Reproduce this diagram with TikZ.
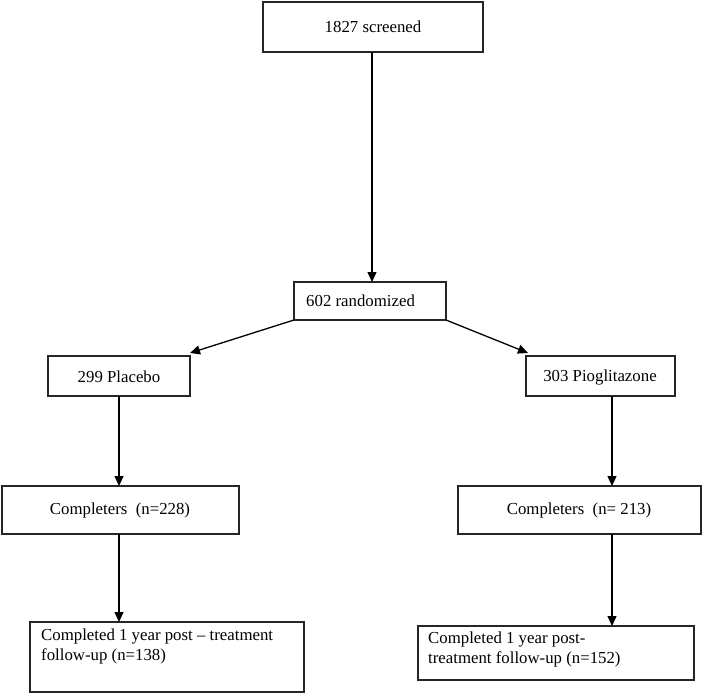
\documentclass[tikz,border=0pt]{standalone}
\usepackage{fontspec}
\setmainfont{Liberation Serif}
\usetikzlibrary{arrows.meta}
\begin{document}
\begin{tikzpicture}[x=1pt,y=-1pt,
  box/.style={draw=black!85, line width=1.1pt, inner sep=0pt},
  conn/.style={line width=1.3pt, -{Triangle[length=10pt,width=9pt]}},
  lbl/.style={font=\fontsize{16.8}{19.5}\selectfont, inner sep=0pt}]
\useasboundingbox (0,0) rectangle (720,696);
% boxes
\draw[box] (263,2) rectangle (483,52);
\node[lbl] (screened) at (373,27) {1827 screened};
\coordinate (screenedB) at (372,52);
\draw[box] (294,282) rectangle (446,320);
\node[lbl, anchor=west] (rand) at (306,301) {602 randomized};
\coordinate (randT) at (372,282);
\coordinate (randBL) at (294,320);
\coordinate (randBR) at (446,320);
\draw[box] (48,356) rectangle (190,396);
\node[lbl] (plac) at (119,377) {299 Placebo};
\draw[box] (526,356) rectangle (675,396);
\node[lbl] (pio) at (600,377) {303 Pioglitazone};
\coordinate (placT) at (190,353);
\coordinate (pioT) at (528,353);
\coordinate (placB) at (119,396);
\coordinate (pioB) at (612,396);
\draw[box] (2,486) rectangle (239,534);
\node[lbl] (compL) at (120,510) {Completers\ \ (n=228)};
\draw[box] (458,486) rectangle (701,534);
\node[lbl] (compR) at (579,510) {Completers\ \ (n=\ 213)};
\coordinate (compLT) at (119,486);
\coordinate (compLB) at (119,534);
\coordinate (compRT) at (612,486);
\coordinate (compRB) at (612,534);
\draw[box] (30,622) rectangle (304,692);
\node[lbl, anchor=north west, align=left] (fuL) at (41,629) {Completed 1 year post -- treatment\\follow-up (n=138)};
\draw[box] (418,626) rectangle (694,680);
\node[lbl, anchor=north west, align=left] (fuR) at (428,632) {Completed 1 year post-\\treatment follow-up (n=152)};
\coordinate (fuLT) at (119,622);
\coordinate (fuRT) at (612,626);
% connectors
\draw[conn] (screenedB) -- (randT);
\draw[conn] (randBL) -- (placT);
\draw[conn] (randBR) -- (pioT);
\draw[conn] (placB) -- (compLT);
\draw[conn] (pioB) -- (compRT);
\draw[conn] (compLB) -- (fuLT);
\draw[conn] (compRB) -- (fuRT);
\end{tikzpicture}
\end{document}
